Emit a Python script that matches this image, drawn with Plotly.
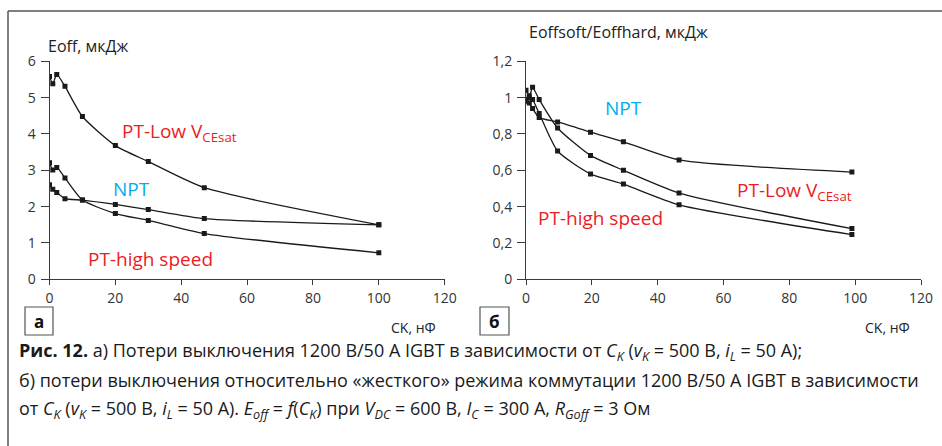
import plotly.graph_objects as go

# ---------------- data ----------------
ck_a = [0, 1, 2.2, 4.7, 10, 20, 30, 47, 100]
eoff_pt_low = [5.58, 5.38, 5.64, 5.31, 4.48, 3.68, 3.24, 2.52, 1.50]
eoff_npt = [2.60, 2.48, 2.39, 2.22, 2.18, 2.06, 1.92, 1.67, 1.50]
eoff_pt_high = [3.21, 3.01, 3.08, 2.79, 2.18, 1.81, 1.62, 1.26, 0.73]

ck_b = [0, 1, 2, 4, 9.6, 19.6, 29.6, 46.5, 99]
ratio_npt = [0.99, 0.97, 0.94, 0.89, 0.866, 0.81, 0.757, 0.657, 0.59]
ratio_pt_low = [0.98, 1.00, 1.057, 0.99, 0.833, 0.682, 0.60, 0.475, 0.279]
ratio_pt_high = [1.04, 1.01, 0.99, 0.913, 0.706, 0.58, 0.524, 0.41, 0.246]

x_ticks = [0, 20, 40, 60, 80, 100, 120]
ya_ticks = [0, 1, 2, 3, 4, 5, 6]
yb_ticks = [0, 0.2, 0.4, 0.6, 0.8, 1.0, 1.2]
yb_ticktext = ["0", "0,2", "0,4", "0,6", "0,8", "1", "1,2"]

# ---------------- figure ----------------
W, H = 942, 446
RED = "#ED1C24"
BLUE = "#00AEEF"
AX = "#3a3a3a"
FONT = "Open Sans"


def px(x):
    return x / W


def py(y):
    return 1 - y / H


fig = go.Figure()

line_style = dict(color="#1a1a1a", width=1.3, shape="spline", smoothing=0.6)
marker_style = dict(symbol="square", size=5, color="#1a1a1a")

for ys in (eoff_pt_low, eoff_npt, eoff_pt_high):
    fig.add_trace(go.Scatter(x=ck_a, y=ys, mode="lines+markers", line=line_style,
                             marker=marker_style, xaxis="x", yaxis="y",
                             showlegend=False, hoverinfo="x+y"))
for ys in (ratio_npt, ratio_pt_low, ratio_pt_high):
    fig.add_trace(go.Scatter(x=ck_b, y=ys, mode="lines+markers", line=line_style,
                             marker=marker_style, xaxis="x2", yaxis="y2",
                             showlegend=False, hoverinfo="x+y"))

axis_common = dict(showline=True, linecolor=AX, linewidth=1, showgrid=False,
                   zeroline=False, ticks="outside", tickcolor=AX, tickwidth=1,
                   automargin=False,
                   tickfont=dict(family=FONT, size=14, color="#333"))
x_common = dict(ticklen=5, ticklabelstandoff=1, **axis_common)
y_common = dict(ticklen=8, ticklabelstandoff=2, **axis_common)

ydom = [py(279.3), py(61.3)]
fig.update_layout(
    template="none",
    width=W, height=H, margin=dict(l=0, r=0, t=0, b=0, autoexpand=False),
    paper_bgcolor="white", plot_bgcolor="white",
    xaxis=dict(domain=[px(49.5), px(444.7)], range=[0, 120], tickvals=x_ticks,
               anchor="y", **x_common),
    yaxis=dict(domain=ydom, range=[0, 6], tickvals=ya_ticks,
               anchor="x", **y_common),
    xaxis2=dict(domain=[px(526), px(921)], range=[0, 120], tickvals=x_ticks,
                anchor="y2", **x_common),
    yaxis2=dict(domain=ydom, range=[0, 1.2], tickvals=yb_ticks,
                ticktext=yb_ticktext, anchor="x2", **y_common),
)

ann = []


def text(x, y, t, size=16, color="#222", xanchor="left", family=FONT, yanchor="middle"):
    ann.append(dict(x=px(x), y=py(y), xref="paper", yref="paper", text=t,
                    showarrow=False, xanchor=xanchor, yanchor=yanchor,
                    font=dict(family=family, size=size, color=color)))


# panel a
text(46, 46, "Eoff, мкДж", 16)
text(120, 132, "PT-Low V<sub>CEsat</sub>", 19, RED)
text(111, 189, "NPT", 19, BLUE)
text(86, 259, "PT-high speed", 19, RED)
text(389, 327, "CK, нФ", 14)
text(39, 321, "<b>а</b>", 17, "#111", xanchor="center")
# panel b
text(527, 32, "Eoffsoft/Eoffhard, мкДж", 16)
text(603, 108, "NPT", 19, BLUE)
text(735, 191, "PT-Low V<sub>CEsat</sub>", 19, RED)
text(536, 218, "PT-high speed", 19, RED)
text(863, 327, "CK, нФ", 14)
text(494.5, 321, "<b>б</b>", 17, "#111", xanchor="center")

# caption
CAP = "Open Sans"
cap1 = ("<b>Рис. 12.</b> а) Потери выключения 1200 В/50 А IGBT в зависимости от "
        "<i>C<sub>K</sub></i> (<i>v<sub>K</sub></i> = 500 В, <i>i<sub>L</sub></i> = 50 А);")
cap2 = ("б) потери выключения относительно «жесткого» режима коммутации "
        "1200 В/50 А IGBT в зависимости")
cap3 = ("от <i>C<sub>K</sub></i> (<i>v<sub>K</sub></i> = 500 В, <i>i<sub>L</sub></i> = 50 А). "
        "<i>E<sub>off</sub></i> = <i>f</i>(<i>C<sub>K</sub></i>) при <i>V<sub>DC</sub></i> = 600 В, "
        "<i>I<sub>C</sub></i> = 300 А, <i>R<sub>Goff</sub></i> = 3 Ом")
text(17, 351, cap1, 18, "#1a1a1a", family=CAP)
text(17, 380, cap2, 18, "#1a1a1a", family=CAP)
text(17, 409, cap3, 18, "#1a1a1a", family=CAP)

fig.update_layout(annotations=ann)

# frame and panel label boxes
shapes = [
    dict(type="line", xref="paper", yref="paper", x0=px(8), x1=1, y0=py(11), y1=py(11),
         line=dict(color="#555", width=1.5)),
    dict(type="line", xref="paper", yref="paper", x0=px(8), x1=px(8), y0=py(11), y1=0,
         line=dict(color="#555", width=1.5)),
    dict(type="rect", xref="paper", yref="paper", x0=px(25), x1=px(53), y0=py(307), y1=py(335),
         line=dict(color="#555", width=1.2)),
    dict(type="rect", xref="paper", yref="paper", x0=px(480), x1=px(509), y0=py(307), y1=py(335),
         line=dict(color="#555", width=1.2)),
]
fig.update_layout(shapes=shapes)

fig.write_html("out.html",
               config={"displayModeBar": False},
               post_script="document.body.style.margin='0';"
                           "document.body.style.overflow='hidden';")
